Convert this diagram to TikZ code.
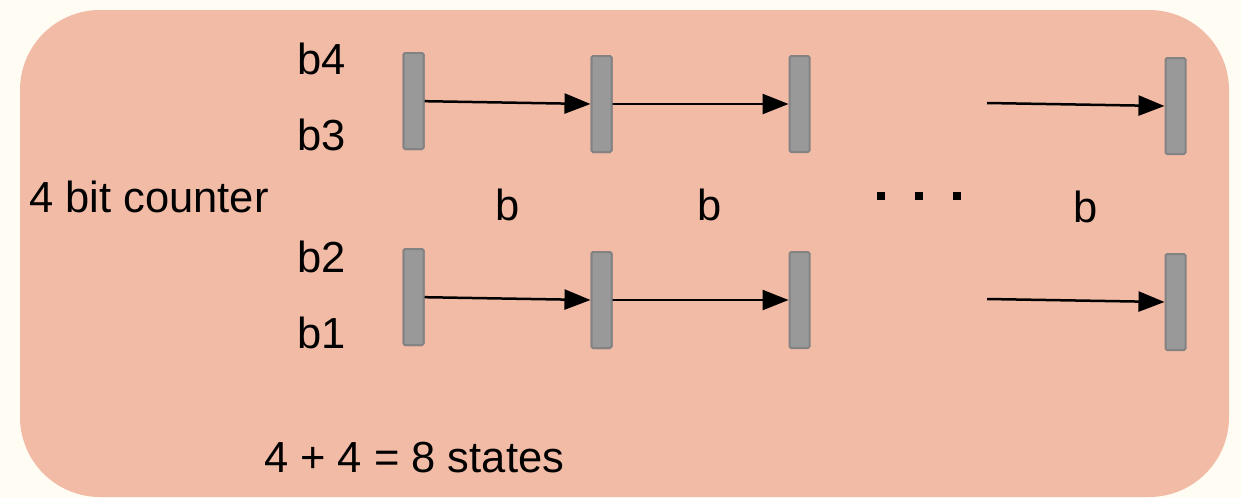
\documentclass[tikz,border=0pt]{standalone}
\usepackage{fontspec}
\setmainfont{Liberation Sans}
\usetikzlibrary{arrows.meta}
\definecolor{paper}{HTML}{FFFDF3}
\definecolor{panel}{HTML}{F2BBA6}
\definecolor{barfill}{HTML}{999999}
\definecolor{baredge}{HTML}{838383}
\begin{document}
\begin{tikzpicture}[x=1pt,y=-1pt,
  bitbar/.style={draw=baredge, fill=barfill, line width=2pt, rounded corners=1.5pt,
    minimum width=20pt, minimum height=96pt, inner sep=0pt},
  flow/.style={line width=2.5pt, -{Triangle[length=26pt,width=20pt]}},
  lbl/.style={anchor=base west, inner sep=0pt, font=\fontsize{43.5}{52}\selectfont},
  dotmark/.style={fill=black, minimum size=8pt, inner sep=0pt}]
  % page and panel
  \fill[paper] (0,0) rectangle (1241,498);
  \useasboundingbox (0,0) rectangle (1241,498);
  \fill[panel, rounded corners=80pt] (20,10) rectangle (1229,497);

  % register bars, upper row
  \node[bitbar] (t1) at (413.5,101) {};
  \node[bitbar] (t2) at (601.5,104) {};
  \node[bitbar] (t3) at (799.5,104) {};
  \node[bitbar] (t4) at (1175.5,106) {};
  % register bars, lower row
  \node[bitbar] (u1) at (413.5,297) {};
  \node[bitbar] (u2) at (601.5,300) {};
  \node[bitbar] (u3) at (799.5,300) {};
  \node[bitbar] (u4) at (1175.5,302) {};

  % transitions
  \coordinate (tf) at (987,103);
  \coordinate (uf) at (987,299);
  \draw[flow] (t1.center) -- (t2.west);
  \draw[flow] (t2.center) -- (t3.west);
  \draw[flow] (tf) -- (t4.west);
  \draw[flow] (u1.center) -- (u2.west);
  \draw[flow] (u2.center) -- (u3.west);
  \draw[flow] (uf) -- (u4.west);
  % redraw bars over the arrow tails
  \foreach \b in {t1,t2,u1,u2}{
    \path (\b.center) node[bitbar] {};
  }

  % labels
  \node[lbl] (lb4) at (297,74) {b4};
  \node[lbl] (lb3) at (297,150) {b3};
  \node[lbl] (lb2) at (297,272) {b2};
  \node[lbl] (lb1) at (297,348) {b1};
  \node[lbl] (lcnt) at (29,212) {4 bit counter};
  \node[lbl] (ls1) at (495,220) {b};
  \node[lbl] (ls2) at (697,220) {b};
  \node[lbl] (ls3) at (1073,222) {b};
  \node[lbl] (lsum) at (264,472) {4 + 4 = 8 states};

  % ellipsis
  \node[dotmark] (d1) at (881,196) {};
  \node[dotmark] (d2) at (918.5,196) {};
  \node[dotmark] (d3) at (956.5,196) {};
\end{tikzpicture}
\end{document}
